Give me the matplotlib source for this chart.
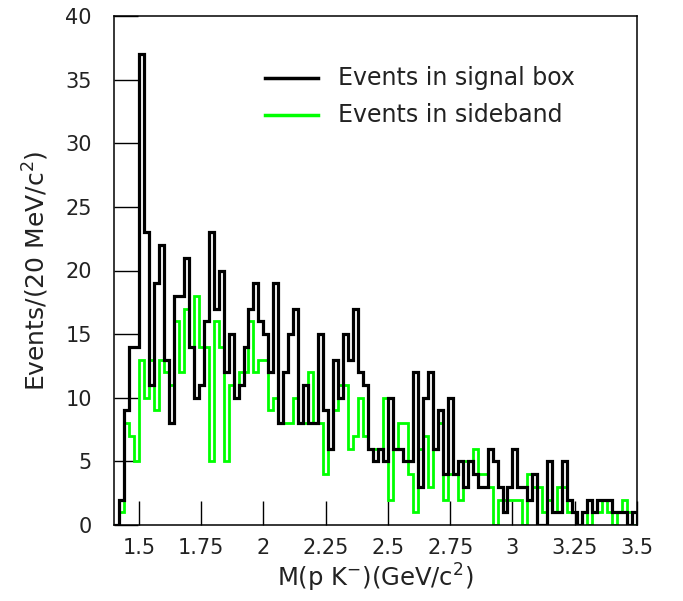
import numpy as np
import matplotlib
matplotlib.use("Agg")
import matplotlib.pyplot as plt

# histogram binning (GeV/c^2)
bin_lo = 1.40
bin_width = 0.02

signal_box = [0, 2, 9, 14, 14, 37, 23, 11, 19, 22,
              13, 8, 18, 18, 21, 14, 10, 11, 16, 23,
              17, 20, 12, 15, 10, 11, 14, 17, 19, 16,
              15, 12, 19, 8, 12, 15, 17, 8, 11, 8,
              8, 15, 9, 6, 13, 10, 15, 13, 17, 12,
              11, 6, 5, 6, 5, 10, 6, 6, 5, 5,
              12, 3, 10, 12, 6, 9, 4, 10, 4, 5,
              3, 5, 4, 3, 3, 6, 5, 3, 1, 3,
              6, 3, 3, 2, 4, 0, 0, 5, 1, 1,
              5, 2, 1, 0, 1, 2, 1, 2, 2, 2,
              1, 1, 1, 0, 1]

sideband = [0, 1, 8, 7, 5, 13, 10, 13, 9, 13,
            12, 11, 16, 12, 17, 14, 18, 14, 14, 5,
            16, 14, 5, 11, 10, 12, 12, 16, 12, 13,
            13, 9, 10, 8, 8, 8, 10, 8, 8, 12,
            8, 8, 4, 6, 9, 11, 11, 6, 7, 10,
            7, 6, 6, 6, 10, 2, 6, 8, 8, 4,
            1, 6, 7, 3, 6, 8, 2, 4, 4, 2,
            5, 5, 6, 4, 4, 3, 0, 2, 2, 2,
            2, 2, 0, 4, 3, 3, 1, 2, 1, 3,
            3, 1, 1, 0, 1, 0, 1, 1, 2, 1,
            0, 1, 2, 1, 0]

x_ticks = [1.5, 1.75, 2.0, 2.25, 2.5, 2.75, 3.0, 3.25, 3.5]
x_tick_labels = ["1.5", "1.75", "2", "2.25", "2.5", "2.75", "3", "3.25", "3.5"]
y_ticks = [0, 5, 10, 15, 20, 25, 30, 35, 40]

legend_labels = ["Events in signal box", "Events in sideband"]

plt.rcParams['font.family'] = ['DejaVu Sans']

edges = bin_lo + bin_width * np.arange(len(signal_box) + 1)

fig = plt.figure(figsize=(6.83, 6.01), dpi=100)
ax = fig.add_axes([114 / 683, 1 - 525 / 601, (637 - 114) / 683, (525 - 16) / 601])

ax.stairs(signal_box, edges, color='black', linewidth=2.3, baseline=0, zorder=3)
ax.stairs(sideband, edges, color='#00ff00', linewidth=2.0, baseline=0, zorder=2)

txt_col = '#222222'
ax.set_xlim(edges[0], edges[-1])
ax.set_ylim(0, 40)
ax.set_xticks(x_ticks)
ax.set_xticklabels(x_tick_labels)
ax.set_yticks(y_ticks)
ax.tick_params(direction='in', length=17, width=1, labelsize=15, color='black',
               labelcolor=txt_col)
ax.tick_params(axis='x', pad=9)
ax.tick_params(axis='y', pad=16)
for s in ax.spines.values():
    s.set_linewidth(1.1)

ax.set_xlabel("M(p K$^{-}$)(GeV/c$^{2}$)", fontsize=17.5, labelpad=3, color=txt_col)
ax.set_ylabel("Events/(20 MeV/c$^{2}$)", fontsize=18, labelpad=10, color=txt_col)

# legend
ax.plot([2.005, 2.218], [35.1, 35.1], color='black', lw=2.5, clip_on=False)
ax.plot([2.005, 2.218], [32.2, 32.2], color='#00ff00', lw=2.5, clip_on=False)
ax.text(2.298, 35.1, legend_labels[0], fontsize=17, va='center', ha='left', color=txt_col)
ax.text(2.298, 32.2, legend_labels[1], fontsize=17, va='center', ha='left', color=txt_col)

fig.savefig("out.png", dpi=100)
